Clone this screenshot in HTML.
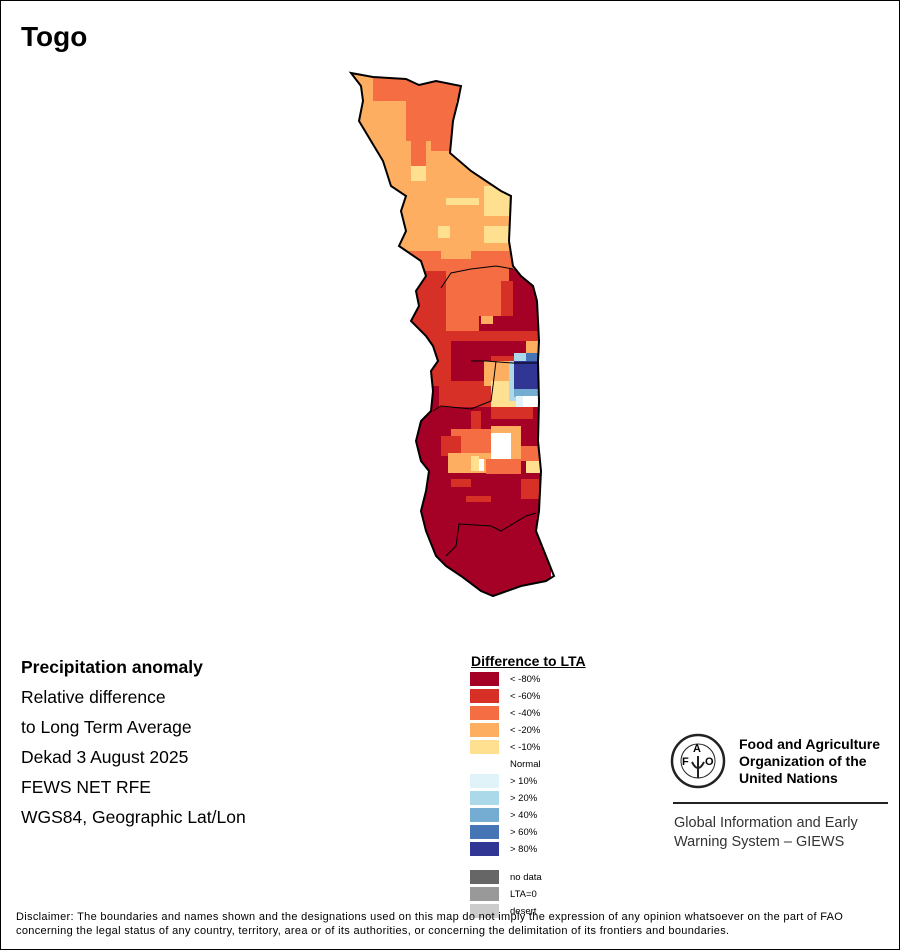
<!DOCTYPE html>
<html><head><meta charset="utf-8"><style>
body{margin:0;background:#fff}
#p{position:relative;width:898px;height:948px;border:1px solid #000;overflow:hidden;font-family:"Liberation Sans",sans-serif;color:#000}
.t{position:absolute;white-space:nowrap}
.sw{position:absolute;left:469px;width:29px;height:14px}
.lb{position:absolute;left:509px;font-size:9.5px}
</style></head><body><div id="p">
<div class="t" style="left:20px;top:20px;font-size:28px;font-weight:bold">Togo</div>
<svg style="position:absolute;left:0;top:0" width="900" height="950">
<defs><clipPath id="c"><polygon id="tg" points="350,72 372,76 405,78 418,84 435,80 460,85 457,100 452,120 449,152 470,170 500,190 510,195 508,240 512,265 520,275 532,285 536,300 538,340 537,360 538,400 537,440 540,470 538,510 535,530 545,555 553,575 545,580 520,585 492,595 480,590 460,575 445,565 435,555 425,530 420,510 425,490 428,470 420,460 415,440 420,420 430,410 432,390 430,370 437,360 432,345 425,335 410,320 418,305 415,290 425,275 420,260 398,245 405,230 400,210 405,195 390,185 382,160 370,140 358,120 362,100 360,85"/></clipPath></defs>
<g clip-path="url(#c)">
<rect x="340" y="60" width="220" height="200" fill="#fdae61"/>
<rect x="372" y="75" width="90" height="25" fill="#f46d43"/>
<rect x="405" y="85" width="50" height="55" fill="#f46d43"/>
<rect x="430" y="130" width="20" height="20" fill="#f46d43"/>
<rect x="410" y="140" width="15" height="25" fill="#f46d43"/>
<rect x="410" y="165" width="15" height="15" fill="#fee090"/>
<rect x="445" y="197" width="33" height="7" fill="#fee090"/>
<rect x="483" y="185" width="25" height="30" fill="#fee090"/>
<rect x="437" y="225" width="12" height="12" fill="#fee090"/>
<rect x="483" y="225" width="25" height="17" fill="#fee090"/>
<rect x="340" y="250" width="220" height="20" fill="#f46d43"/>
<rect x="440" y="250" width="30" height="8" fill="#fdae61"/>
<rect x="340" y="268" width="220" height="70" fill="#f46d43"/>
<rect x="400" y="270" width="45" height="70" fill="#d73027"/>
<rect x="508" y="268" width="40" height="80" fill="#a50026"/>
<rect x="500" y="280" width="12" height="40" fill="#d73027"/>
<rect x="478" y="315" width="35" height="20" fill="#a50026"/>
<rect x="480" y="315" width="12" height="8" fill="#fdae61"/>
<rect x="400" y="330" width="150" height="30" fill="#d73027"/>
<rect x="450" y="340" width="90" height="20" fill="#a50026"/>
<rect x="400" y="355" width="150" height="60" fill="#d73027"/>
<rect x="450" y="345" width="40" height="35" fill="#a50026"/>
<rect x="403" y="385" width="35" height="25" fill="#a50026"/>
<rect x="483" y="360" width="30" height="25" fill="#fdae61"/>
<rect x="490" y="380" width="25" height="30" fill="#fee090"/>
<rect x="508" y="360" width="12" height="40" fill="#abd9e9"/>
<rect x="513" y="352" width="12" height="10" fill="#abd9e9"/>
<rect x="525" y="352" width="15" height="10" fill="#4575b4"/>
<rect x="525" y="340" width="15" height="12" fill="#fdae61"/>
<rect x="513" y="360" width="27" height="30" fill="#313695"/>
<rect x="513" y="388" width="27" height="8" fill="#74add1"/>
<rect x="515" y="395" width="7" height="12" fill="#e0f3f8"/>
<rect x="522" y="395" width="18" height="12" fill="#fff"/>
<rect x="400" y="406" width="150" height="190" fill="#a50026"/>
<rect x="490" y="406" width="42" height="12" fill="#d73027"/>
<rect x="470" y="410" width="10" height="30" fill="#d73027"/>
<rect x="450" y="428" width="40" height="30" fill="#f46d43"/>
<rect x="440" y="435" width="20" height="20" fill="#d73027"/>
<rect x="447" y="452" width="60" height="20" fill="#fdae61"/>
<rect x="490" y="425" width="30" height="35" fill="#fdae61"/>
<rect x="490" y="432" width="20" height="26" fill="#fff"/>
<rect x="470" y="455" width="8" height="15" fill="#fee090"/>
<rect x="478" y="458" width="5" height="12" fill="#fff"/>
<rect x="485" y="458" width="35" height="15" fill="#f46d43"/>
<rect x="525" y="460" width="15" height="12" fill="#fee090"/>
<rect x="520" y="445" width="20" height="15" fill="#f46d43"/>
<rect x="450" y="478" width="20" height="8" fill="#d73027"/>
<rect x="465" y="495" width="25" height="6" fill="#d73027"/>
<rect x="520" y="478" width="18" height="20" fill="#d73027"/>
</g>
<use href="#tg" fill="none" stroke="#000" stroke-width="2"/>
<polyline points="440,287 450,272 470,268 495,265 512,268" fill="none" stroke="#000" stroke-width="1"/>
<polyline points="470,360 485,360 512,362 537,362" fill="none" stroke="#000" stroke-width="1"/>
<polyline points="495,360 492,385 490,400 470,408 440,405 432,410" fill="none" stroke="#000" stroke-width="1"/>
<polyline points="445,555 455,545 458,523 490,525 500,530 525,515 535,512" fill="none" stroke="#000" stroke-width="1"/>
</svg>
<div class="t" style="left:20px;top:656px;font-size:17.5px;font-weight:bold">Precipitation anomaly</div>
<div class="t" style="left:20px;top:686px;font-size:17.5px">Relative difference</div>
<div class="t" style="left:20px;top:716px;font-size:17.5px">to Long Term Average</div>
<div class="t" style="left:20px;top:746px;font-size:17.5px">Dekad 3 August 2025</div>
<div class="t" style="left:20px;top:776px;font-size:17.5px">FEWS NET RFE</div>
<div class="t" style="left:20px;top:806px;font-size:17.5px">WGS84, Geographic Lat/Lon</div>
<div class="t" style="left:470px;top:652px;font-size:14px;font-weight:bold;text-decoration:underline">Difference to LTA</div>
<div class="sw" style="top:671px;background:#a50026"></div><div class="lb" style="top:673px">&lt; -80%</div>
<div class="sw" style="top:688px;background:#d73027"></div><div class="lb" style="top:690px">&lt; -60%</div>
<div class="sw" style="top:705px;background:#f46d43"></div><div class="lb" style="top:707px">&lt; -40%</div>
<div class="sw" style="top:722px;background:#fdae61"></div><div class="lb" style="top:724px">&lt; -20%</div>
<div class="sw" style="top:739px;background:#fee090"></div><div class="lb" style="top:741px">&lt; -10%</div>
<div class="lb" style="top:758px">Normal</div>
<div class="sw" style="top:773px;background:#e0f3f8"></div><div class="lb" style="top:775px">&gt; 10%</div>
<div class="sw" style="top:790px;background:#abd9e9"></div><div class="lb" style="top:792px">&gt; 20%</div>
<div class="sw" style="top:807px;background:#74add1"></div><div class="lb" style="top:809px">&gt; 40%</div>
<div class="sw" style="top:824px;background:#4575b4"></div><div class="lb" style="top:826px">&gt; 60%</div>
<div class="sw" style="top:841px;background:#313695"></div><div class="lb" style="top:843px">&gt; 80%</div>
<div class="sw" style="top:869px;background:#666"></div><div class="lb" style="top:871px">no data</div>
<div class="sw" style="top:886px;background:#999"></div><div class="lb" style="top:888px">LTA=0</div>
<div class="sw" style="top:903px;background:#ccc"></div><div class="lb" style="top:905px">desert</div>
<svg style="position:absolute;left:668px;top:731px" width="58" height="58"><circle cx="29" cy="29" r="26" fill="none" stroke="#222" stroke-width="2.5"/><circle cx="29" cy="29" r="17" fill="none" stroke="#222" stroke-width="1"/><text x="13" y="33" font-size="11" font-weight="bold" font-family="Liberation Sans">F</text><text x="24" y="20" font-size="11" font-weight="bold" font-family="Liberation Sans">A</text><text x="36" y="33" font-size="11" font-weight="bold" font-family="Liberation Sans">O</text><path d="M29 24 L29 46 M23 30 Q29 42 35 30" stroke="#222" stroke-width="2" fill="none"/></svg>
<div class="t" style="left:738px;top:735px;font-size:14px;font-weight:bold;line-height:17px">Food and Agriculture<br>Organization of the<br>United Nations</div>
<div style="position:absolute;left:672px;top:801px;width:215px;height:2px;background:#222"></div>
<div class="t" style="left:673px;top:813px;font-size:14.5px;line-height:19px;color:#333">Global Information and Early<br>Warning System – GIEWS</div>
<div class="t" style="left:15px;top:909px;font-size:11px;letter-spacing:0.32px;line-height:14px">Disclaimer: The boundaries and names shown and the designations used on this map do not imply the expression of any opinion whatsoever on the part of FAO<br>concerning the legal status of any country, territory, area or of its authorities, or concerning the delimitation of its frontiers and boundaries.</div>
</div></body></html>
